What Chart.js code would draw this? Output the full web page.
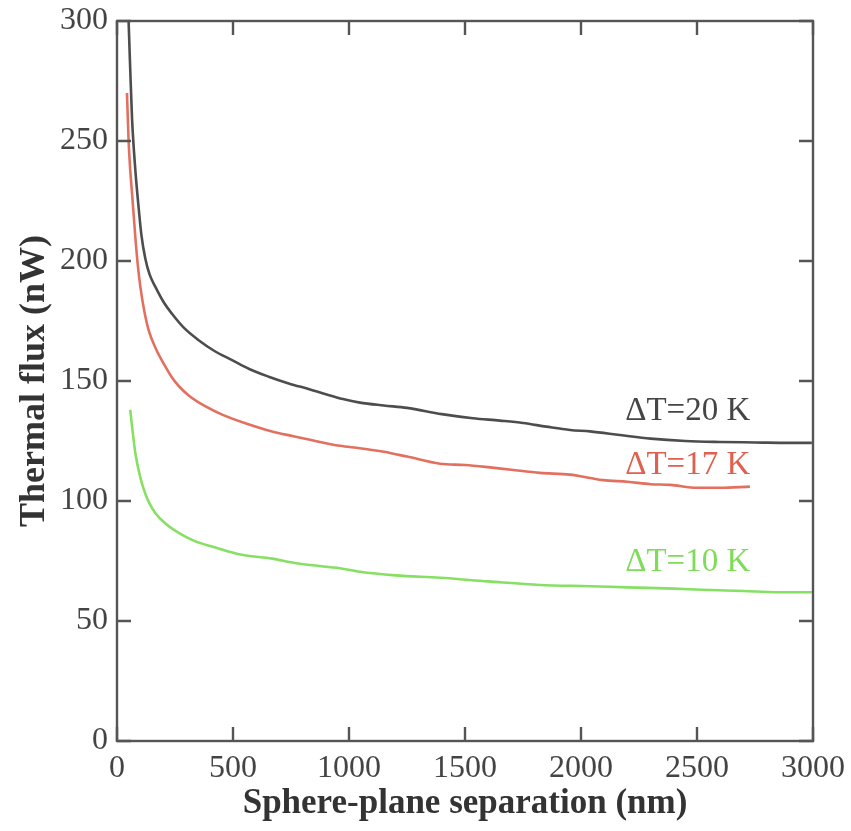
<!DOCTYPE html>
<html>
<head>
<meta charset="utf-8">
<title>Thermal flux vs separation</title>
<script src="https://cdn.jsdelivr.net/npm/chart.js@4.4.1/dist/chart.umd.min.js"></script>
<style>
  html, body { margin: 0; padding: 0; background: #fff; }
  #wrap { width: 851px; height: 831px; }
</style>
</head>
<body>
<div id="wrap"><canvas id="grafico" width="851" height="831"></canvas></div>
<script>
// curva dT = 20 K
var sep20 = [46, 50, 57, 65, 79, 93, 105, 122, 140, 165, 200, 237, 290, 352, 420, 496, 570, 654, 740, 832, 900, 974, 1047, 1150, 1250, 1400, 1534, 1650, 1750, 1850, 1953, 2039, 2168, 2300, 2450, 2599, 2750, 2900, 2995];
var fluxo20 = [315, 300, 280, 259, 238, 222.5, 211, 201, 194.5, 189.3, 183, 178, 172, 167, 162.5, 158.7, 155, 151.8, 149, 146.5, 144.5, 142.5, 141, 139.8, 138.8, 136.2, 134.5, 133.5, 132.5, 131, 129.6, 129, 127.5, 126, 125, 124.6, 124.4, 124.2, 124.2];

// curva dT = 17 K
var sep17 = [43, 50, 57, 65, 79, 90, 101, 118, 137, 165, 194, 237, 270, 309, 380, 453, 550, 668, 760, 832, 961, 1047, 1150, 1250, 1392, 1500, 1608, 1700, 1823, 1953, 2039, 2095, 2200, 2300, 2384, 2500, 2600, 2728];
var fluxo17 = [270, 250, 238, 228, 210, 198, 189, 179, 171, 164, 158.5, 151.5, 147.5, 144, 139.5, 136, 132.5, 129, 127, 125.5, 123, 122, 120.5, 118.5, 115.5, 115, 114, 113, 111.7, 111, 109.6, 108.7, 108, 107, 106.7, 105.5, 105.5, 106];

// curva dT = 10 K
var sep10 = [57, 65, 79, 100, 122, 140, 165, 210, 266, 330, 409, 480, 543, 668, 760, 832, 961, 1047, 1200, 1392, 1600, 1823, 2039, 2200, 2400, 2526, 2700, 2850, 2995];
var fluxo10 = [138, 131, 120, 110, 103, 99, 95, 90.5, 86.7, 83.5, 81, 79, 77.5, 76, 74.3, 73.3, 72, 70.5, 69, 68, 66.5, 65, 64.5, 64, 63.5, 63, 62.5, 62, 62];

var ticksX = [0, 500, 1000, 1500, 2000, 2500, 3000];
var ticksY = [0, 50, 100, 150, 200, 250, 300];

var rotulos = ['\u0394T=20 K', '\u0394T=17 K', '\u0394T=10 K'];
var rotulosX = [2460, 2460, 2460];
var rotulosY = [137.5, 115, 74.6];

var corPreto = '#4d4d4d';
var corVermelho = '#e3705f';
var corVerde = '#86e063';
var coresRotulos = ['#454545', '#e0604f', '#7edc58'];

var fonte = 'Liberation Serif, Times New Roman, serif';

function montarPontos(xs, ys) {
  var pts = [];
  for (var i = 0; i < xs.length; i++) pts.push({ x: xs[i], y: ys[i] });
  return pts;
}

// moldura com marcas de escala para dentro nos quatro lados
var molduraPlugin = {
  id: 'moldura',
  afterDatasetsDraw: function (chart) {
    var ctx = chart.ctx;
    var a = chart.chartArea;
    var sx = chart.scales.x, sy = chart.scales.y;
    var tam = 14;
    ctx.save();
    ctx.strokeStyle = '#555';
    ctx.lineWidth = 2.4;
    ctx.strokeRect(a.left, a.top, a.right - a.left, a.bottom - a.top);
    ctx.beginPath();
    ticksX.forEach(function (v) {
      var px = sx.getPixelForValue(v);
      ctx.moveTo(px, a.bottom); ctx.lineTo(px, a.bottom - tam);
      ctx.moveTo(px, a.top); ctx.lineTo(px, a.top + tam);
    });
    ticksY.forEach(function (v) {
      var py = sy.getPixelForValue(v);
      ctx.moveTo(a.left, py); ctx.lineTo(a.left + tam, py);
      ctx.moveTo(a.right, py); ctx.lineTo(a.right - tam, py);
    });
    ctx.stroke();

    // rótulos das curvas
    ctx.font = '33px ' + fonte;
    ctx.textAlign = 'center';
    ctx.textBaseline = 'middle';
    for (var i = 0; i < rotulos.length; i++) {
      ctx.fillStyle = coresRotulos[i];
      ctx.fillText(rotulos[i], sx.getPixelForValue(rotulosX[i]), sy.getPixelForValue(rotulosY[i]));
    }
    ctx.restore();
  }
};

var dados = {
  datasets: [
    { label: '20 K', data: montarPontos(sep20, fluxo20), borderColor: corPreto },
    { label: '17 K', data: montarPontos(sep17, fluxo17), borderColor: corVermelho },
    { label: '10 K', data: montarPontos(sep10, fluxo10), borderColor: corVerde }
  ]
};
dados.datasets.forEach(function (d) {
  d.borderWidth = 2.6;
  d.pointRadius = 0;
  d.fill = false;
  d.cubicInterpolationMode = 'monotone';
});

function semSeparador(v) { return String(v); }

var config = {
  type: 'line',
  data: dados,
  plugins: [molduraPlugin],
  options: {
    responsive: false,
    animation: false,
    layout: { padding: { left: 0, right: 38, top: 21, bottom: 0 } },
    plugins: { legend: { display: false }, tooltip: { enabled: false } },
    scales: {
      x: {
        type: 'linear',
        min: 0,
        max: 3000,
        grid: { display: false, drawTicks: false },
        border: { display: false },
        afterBuildTicks: function (s) { s.ticks = ticksX.map(function (v) { return { value: v }; }); },
        afterFit: function (s) { s.height = 90; s.paddingLeft = 0; s.paddingRight = 0; },
        ticks: { color: '#444', padding: 8, maxRotation: 0, callback: semSeparador, font: { family: fonte, size: 32 } },
        title: {
          display: true,
          text: 'Sphere-plane separation (nm)',
          color: '#333',
          padding: { top: 0, bottom: 6 },
          font: { family: fonte, size: 35, weight: 'bold' }
        }
      },
      y: {
        min: 0,
        max: 300,
        grid: { display: false, drawTicks: false },
        border: { display: false },
        afterBuildTicks: function (s) { s.ticks = ticksY.map(function (v) { return { value: v }; }); },
        afterFit: function (s) { s.width = 117; s.paddingTop = 0; s.paddingBottom = 0; },
        ticks: { color: '#444', padding: 9, callback: semSeparador, font: { family: fonte, size: 32 } },
        title: {
          display: true,
          text: 'Thermal flux (nW)',
          color: '#333',
          padding: { top: 13, bottom: 0 },
          font: { family: fonte, size: 36, weight: 'bold' }
        }
      }
    }
  }
};

new Chart(document.getElementById('grafico'), config);
</script>
</body>
</html>
